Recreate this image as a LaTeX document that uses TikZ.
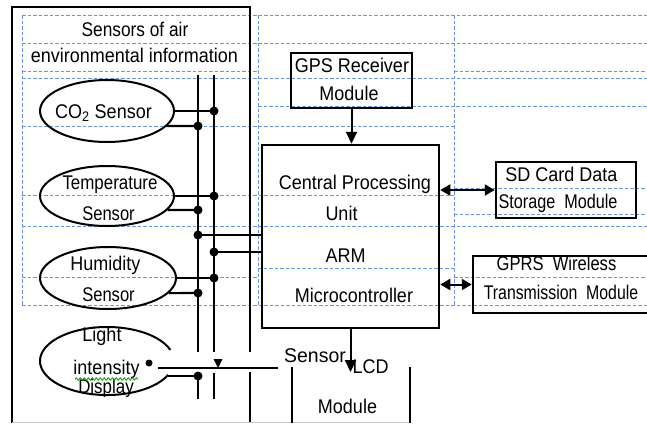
\documentclass[tikz,border=0pt]{standalone}
\usepackage{fontspec}
\setmainfont{Liberation Sans}
\usetikzlibrary{arrows.meta,shapes.geometric,decorations.pathmorphing}
\definecolor{gridblue}{RGB}{100,150,225}
\newcommand\tallt[2][1]{\scalebox{#1}[1.1]{#2}}
\begin{document}
\begin{tikzpicture}[x=1pt,y=-1pt,
  gridline/.style={gridblue, line width=0.9pt, dash pattern=on 3.5pt off 2pt},
  wire/.style={line width=2.2pt},
  boxnode/.style={draw, line width=2.5pt, inner sep=0pt},
  sens/.style={ellipse, draw, line width=2pt, inner sep=0pt},
  lbl/.style={font=\fontsize{18}{21}\selectfont, inner sep=0pt, anchor=base},
  tip/.style={-{Triangle[length=12pt,width=11pt]}, line width=2pt},
  dtip/.style={{Triangle[length=10pt,width=11pt]}-{Triangle[length=10pt,width=11pt]}, line width=2pt}
]
\path[use as bounding box] (0,0) rectangle (647,423);
\clip (0,0) rectangle (647,423);
\fill[white] (0,0) rectangle (647,423);

% dashed grid
\draw[gridline] (22,15) -- (647,15);
\draw[gridline] (22,43) -- (647,43);
\draw[gridline] (22,71) -- (258,71);
\draw[gridline] (454,71) -- (647,71);
\draw[gridline] (22,78) -- (647,78);
\draw[gridline] (258,106) -- (647,106);
\draw[gridline] (22,126) -- (454,126);
\draw[gridline] (454,188) -- (647,188);
\draw[gridline] (22,195) -- (454,195);
\draw[gridline] (454,214) -- (647,214);
\draw[gridline] (22,226) -- (647,226);
\draw[gridline] (258,268) -- (454,268);
\draw[gridline] (22,277) -- (258,277);
\draw[gridline] (454,277) -- (647,277);
\draw[gridline] (22,305) -- (647,305);
\draw[gridline] (22,15) -- (22,305);
\draw[gridline] (258,15) -- (258,305);
\draw[gridline] (454,15) -- (454,305);

% outer sensor frame
\draw[wire] (12,423) -- (12,7) -- (250,7) -- (250,352);
\draw[wire] (250,372) -- (250,423);
\draw[gray!45, line width=1pt] (12,422) -- (410,422);

% sensors
\node[sens, minimum width=134pt, minimum height=62pt] (co2) at (107,111) {};
\node[sens, minimum width=134pt, minimum height=60pt] (temp) at (107,196) {};
\node[sens, minimum width=136pt, minimum height=62pt] (hum) at (108,278) {};
\coordinate (lightc) at (107,361);
\draw[line width=2pt] (lightc) ++(24:67 and 34) arc[start angle=24, end angle=341, x radius=67, y radius=34];
\coordinate (llow) at (168,376);

% bus
\coordinate (aT) at (198,75);  \coordinate (aB) at (198,352);
\coordinate (bT) at (214,75);  \coordinate (bB) at (214,352);
\coordinate (aT2) at (198,373); \coordinate (aB2) at (198,399);
\coordinate (bT2) at (214,373); \coordinate (bB2) at (214,399);
\draw[wire] (aT) -- (aB);
\draw[wire] (bT) -- (bB);
\draw[wire] (aT2) -- (aB2);
\draw[wire] (bT2) -- (bB2);

\coordinate (dB1) at (214,111);
\coordinate (dA1) at (198,126);
\coordinate (dB2) at (214,196);
\coordinate (dA2) at (198,210);
\coordinate (dA3) at (198,235);
\coordinate (dB3) at (214,252);
\coordinate (dB4) at (214,278);
\coordinate (dA4) at (198,293);
\coordinate (dA5) at (198,376);

% modules
\node[boxnode, minimum width=121pt, minimum height=55pt] (gps) at (351.5,80.5) {};
\node[boxnode, minimum width=177pt, minimum height=183pt] (cpu) at (350.5,236.5) {};
\node[boxnode, minimum width=140pt, minimum height=56pt] (sd) at (566,190) {};
\node[boxnode, minimum width=200pt, minimum height=57pt] (gprs) at (573,284.5) {};
\coordinate (lcdL) at (292,367); \coordinate (lcdLb) at (292,423);
\coordinate (lcdR) at (410,367); \coordinate (lcdRb) at (410,423);
\draw[wire] (lcdL) -- (lcdLb);
\draw[wire] (lcdR) -- (lcdRb);
\coordinate (lcdtip) at (351,372);

% sensor wires
\draw[wire] (co2.east) -- (dB1);
\draw[wire] (co2.-14) -- (dA1);
\draw[wire] (temp.east) -- (dB2);
\draw[wire] (temp.-13) -- (dA2);
\draw[wire] (hum.east) -- (dB4);
\draw[wire] (hum.-14) -- (dA4);
\draw[wire] (llow) -- (dA5);
\draw[wire] (dA3) -- (dA3 -| cpu.west);
\draw[wire] (dB3) -- (dB3 -| cpu.west);
\foreach \p in {dB1,dA1,dB2,dA2,dA3,dB3,dB4,dA4,dA5}
  \fill (\p) circle[radius=4.5];

% light intensity line
\coordinate (ldot) at (149,363);
\coordinate (lineL) at (158,368);
\coordinate (lineR) at (278,368);
\fill (ldot) circle[radius=3.5];
\draw[wire] (lineL) -- (lineR);
\fill (213.5,359) -- (222.5,359) -- (218,368) -- cycle;

% arrows
\draw[tip] (gps.south) -- (gps.south |- cpu.north);
\draw[tip] (cpu.south) -- (cpu.south |- lcdtip);
\draw[dtip] (cpu.east |- sd.west) -- (sd.west);
\draw[dtip] (cpu.east |- gprs.west) -- (gprs.west);

% texts
\node[lbl] (t1) at (135,36) {\tallt[0.96]{Sensors of air}};
\node[lbl] (t2) at (134.5,62) {\tallt{environmental information}};
\node[lbl] (tco2) at (103.5,118) {\tallt{CO\textsubscript{2} Sensor}};
\node[lbl] (ttemp) at (110,189) {\tallt[0.94]{Temperature}};
\node[lbl] (ttemps) at (108.5,220) {\tallt[0.92]{Sensor}};
\node[lbl] (thum) at (105.5,270) {\tallt{Humidity}};
\node[lbl] (thums) at (108.5,301) {\tallt[0.92]{Sensor}};
\node[lbl] (tl1) at (102,341) {\tallt{Light}};
\node[lbl] (tl2) at (106.5,374) {\tallt{intensity}};
\node[lbl] (tl3) at (106,393) {\tallt[0.94]{Display}};
\draw[green!60!black, line width=0.8pt, decorate, decoration={snake, amplitude=1.2pt, segment length=4pt}] (75,379) -- (138,379);
\node[lbl] (tg1) at (352,72) {\tallt{GPS Receiver}};
\node[lbl] (tg2) at (349,100) {\tallt{Module}};
\node[lbl] (tc1) at (355,189) {\tallt{Central Processing}};
\node[lbl] (tc2) at (341.5,220) {\tallt{Unit}};
\node[lbl] (tc3) at (345.5,262) {\tallt{ARM}};
\node[lbl] (tc4) at (354,302) {\tallt{Microcontroller}};
\node[lbl] (ts) at (315,362) {\tallt[1.08]{Sensor}};
\node[lbl] (tlcd1) at (370.5,373) {\tallt{LCD}};
\node[lbl] (tlcd2) at (347.5,413) {\tallt{Module}};
\node[lbl] (tsd1) at (561.5,181) {\tallt{SD Card Data}};
\node[lbl] (tsd2) at (558,208) {\tallt[0.9]{Storage\ \ Module}};
\node[lbl] (tgp1) at (556.5,270) {\tallt[0.92]{GPRS\ \ Wireless}};
\node[lbl] (tgp2) at (561,299) {\tallt[0.88]{Transmission\ \ Module}};
\end{tikzpicture}
\end{document}
